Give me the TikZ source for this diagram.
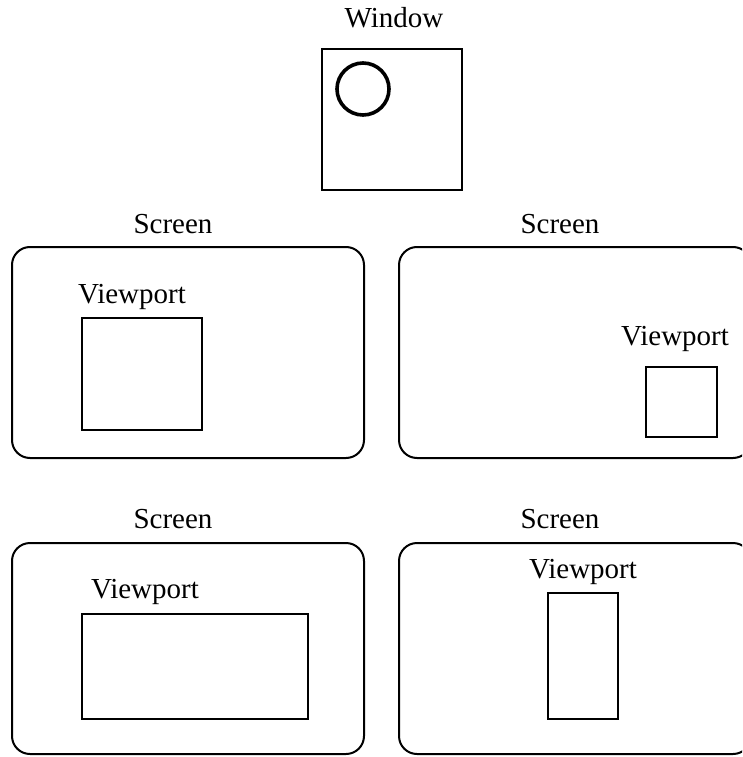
\documentclass[tikz,border=0pt]{standalone}
\usepackage{fontspec}
\setmainfont{Liberation Serif}
\begin{document}
\begin{tikzpicture}[x=1pt,y=-1pt,
  lbl/.style={anchor=base,inner sep=0pt,font=\fontsize{29}{31}\selectfont},
  screenbox/.style={draw,line width=2pt,rounded corners=18pt,minimum width=352pt,minimum height=211pt,inner sep=0pt},
  vpbox/.style={draw,line width=2pt,inner sep=0pt},
  winbox/.style={draw,line width=2pt,minimum width=140pt,minimum height=141pt,inner sep=0pt}]
\useasboundingbox (0,0) rectangle (742,757);
\clip (0,0) rectangle (742,757);
% window
\node[lbl] (wl) at (394,28) {Window};
\node[winbox] (win) at (392,119.5) {};
\node[draw,circle,line width=3.6pt,minimum size=52pt,inner sep=0pt] (circ) at (363,89) {};
% screen 1
\node[lbl] (s1l) at (173,233) {Screen};
\node[screenbox] (s1) at (188,352.5) {};
\node[lbl] (v1l) at (132,303) {Viewport};
\node[vpbox,minimum width=120pt,minimum height=112pt] (v1) at (142,374) {};
% screen 2
\node[lbl] (s2l) at (560,233) {Screen};
\node[screenbox] (s2) at (575,352.5) {};
\node[lbl] (v2l) at (675,345) {Viewport};
\node[vpbox,minimum width=71pt,minimum height=70pt] (v2) at (681.5,402) {};
% screen 3
\node[lbl] (s3l) at (173,528) {Screen};
\node[screenbox] (s3) at (188,648.5) {};
\node[lbl] (v3l) at (145,598) {Viewport};
\node[vpbox,minimum width=226pt,minimum height=105pt] (v3) at (195,666.5) {};
% screen 4
\node[lbl] (s4l) at (560,528) {Screen};
\node[screenbox] (s4) at (575,648.5) {};
\node[lbl] (v4l) at (583,578) {Viewport};
\node[vpbox,minimum width=70pt,minimum height=126pt] (v4) at (583,656) {};
\end{tikzpicture}
\end{document}
